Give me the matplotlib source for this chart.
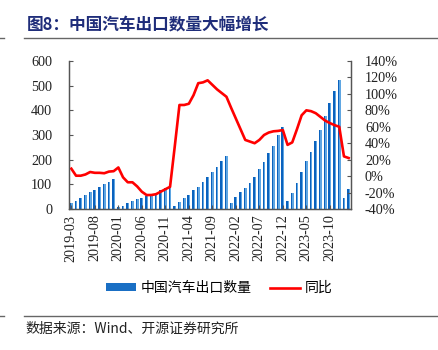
import numpy as np
import matplotlib
matplotlib.use("Agg")
import matplotlib.pyplot as plt
from matplotlib.lines import Line2D
from matplotlib.patches import Patch

# 月份 2019-03 ~ 2024-02
years = [2019] * 10 + [2020] * 12 + [2021] * 12 + [2022] * 12 + [2023] * 12 + [2024] * 2
months = list(range(3, 13)) + list(range(1, 13)) * 4 + [1, 2]
labels = [f"{y}-{m:02d}" for y, m in zip(years, months)]

# 中国汽车出口数量（万辆，累计）
export = [23, 34, 44, 56, 68, 77, 91, 102, 111, 122,
          9, 14, 25, 34, 39, 46, 53, 60, 66, 77, 87, 98,
          13, 28, 43, 57, 77, 91, 111, 129, 149, 170, 193, 213,
          23, 48, 68, 87, 105, 129, 162, 189, 227, 255, 298, 332,
          33, 66, 105, 149, 193, 233, 277, 322, 376, 428, 478, 525,
          44, 80]

# 同比（%）
yoy = [9, 0.5, 0.5, 2, 5, 4, 4, 3.5, 5.5, 6,
       10.5, -1.5, -7.5, -7.5, -12.5, -19, -23, -23, -22, -19, -16, -13,
       36, 86.5, 86.5, 88, 98.5, 113, 114, 116.5, 111, 105.5, 101, 96.5,
       83, 70, 57, 44, 42, 40, 44, 50, 53, 54.5, 55, 56,
       38, 41, 57, 74, 80, 79, 76.5, 72, 67.5, 64.5, 62, 60,
       24, 22]

tick_idx = list(range(0, 60, 5))

serif = "Liberation Serif"
cjk = ["Noto Sans CJK SC", "DejaVu Sans"]
axis_col = "#555555"

fig = plt.figure(figsize=(4.38, 3.5), dpi=100)
ax = fig.add_axes([69 / 438, 1 - 209 / 350, 282 / 438, 148 / 350])
ax2 = ax.twinx()

x = np.arange(len(export))
w = 0.6
ax.bar(x - w / 4, export, width=w / 2, color="#0A62BE", linewidth=0)
ax.bar(x + w / 4, export, width=w / 2, color="#5FA6E2", linewidth=0)
ax.set_xlim(-0.5, len(export) - 0.5)
ax.set_ylim(0, 600)
ax.set_yticks(range(0, 601, 100))

ax2.plot(x, yoy, color="#FF0000", linewidth=1.9, solid_joinstyle="round")
ax2.set_ylim(-40, 140)
ax2.set_yticks(range(-40, 141, 20))
ax2.set_yticklabels([f"{v}%" for v in range(-40, 141, 20)])

ax.set_xticks(tick_idx)
ax.set_xticklabels([labels[i] for i in tick_idx], rotation=90)

for a in (ax, ax2):
    for s in a.spines.values():
        s.set_color(axis_col)
        s.set_linewidth(0.9)
    a.spines["top"].set_visible(False)
    a.tick_params(direction="in", length=3, color=axis_col, labelsize=10.2,
                  labelcolor="#222222")
    for t in a.get_xticklabels() + a.get_yticklabels():
        t.set_fontfamily(serif)
ax.tick_params(axis="y", pad=12)
ax2.tick_params(axis="y", pad=10)
ax.tick_params(axis="x", pad=4)

handles = [Patch(facecolor="#1A6FC4", edgecolor="none"),
           Line2D([0], [0], color="#FF0000", linewidth=1.9)]
fig.legend(handles, ["中国汽车出口数量", "同比"], loc="center",
           bbox_to_anchor=(0.5, 1 - 288 / 350), ncol=2, frameon=False,
           prop={"family": cjk, "size": 10}, handlelength=2.2,
           handleheight=0.5, columnspacing=1.3, handletextpad=0.3)

fig.text(27 / 438, 1 - 24 / 350, "图8：中国汽车出口数量大幅增长", family=cjk,
         fontsize=12, fontweight="bold", color="#1F2D7A", va="center")
fig.text(25 / 438, 1 - 329 / 350, "数据来源：Wind、开源证券研究所", family=cjk,
         fontsize=10, color="#222222", va="center")

for yy in (38, 316):
    fy = 1 - yy / 350
    fig.add_artist(Line2D([24 / 438, 1], [fy, fy], color="#666666", linewidth=1))
    fig.add_artist(Line2D([0, 4 / 438], [fy, fy], color="#666666", linewidth=1))

fig.savefig("out.png", dpi=100)
